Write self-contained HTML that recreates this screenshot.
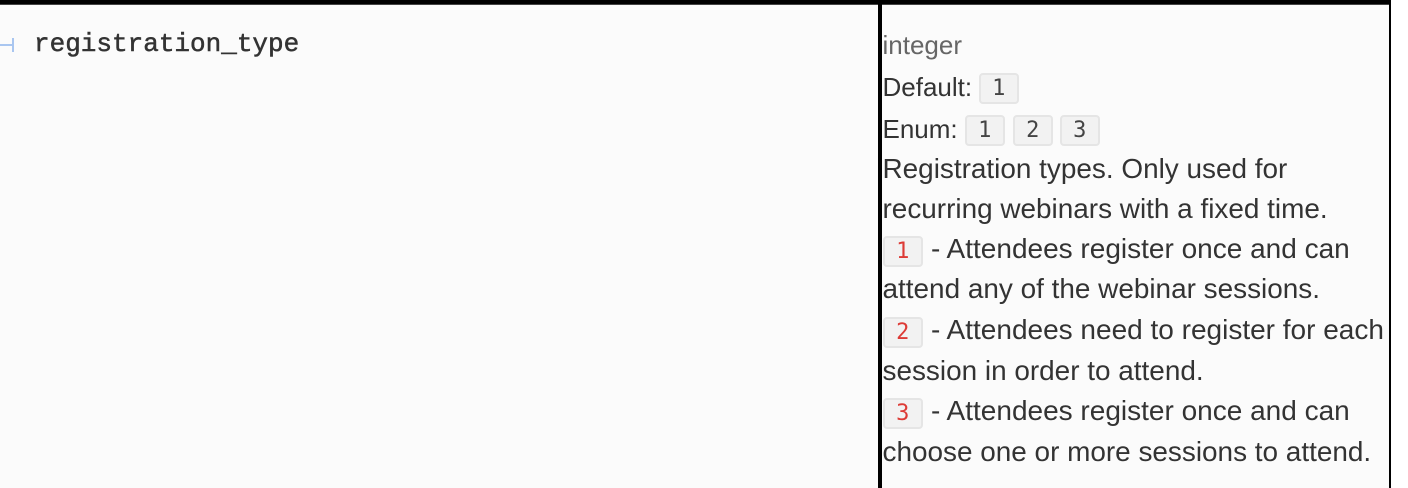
<!DOCTYPE html>
<html><head><meta charset="utf-8">
<style>
html,body{margin:0;padding:0}
body{width:1408px;height:488px;background:#fff;position:relative;overflow:hidden;font-family:"Liberation Sans",sans-serif;color:#333}
.bg{position:absolute;left:0;top:0;width:1391px;height:488px;background:#fbfbfb}
.l{position:absolute;background:#000}
.t{position:absolute;left:882.5px;font-size:27.92px;line-height:30px;white-space:nowrap;color:#333}
.s{font-size:26px}
.a{left:931px;font-size:28px}
.b{position:absolute;box-sizing:border-box;width:39.5px;height:31px;background:#f2f2f2;border:2px solid #e5e5e5;border-radius:4px;font-family:"DejaVu Sans Mono",monospace;font-size:22px;line-height:27px;text-align:center;color:#444}
.r{color:#dd3b36;left:883px}
</style></head><body>
<div class="bg"></div>
<div class="l" style="left:0;top:0;width:1391px;height:4px"></div>
<div class="l" style="left:0;top:4px;width:1391px;height:1px;background:#444"></div>
<div class="l" style="left:878px;top:0;width:4px;height:488px"></div>
<div class="l" style="left:1389px;top:0;width:2px;height:488px"></div>
<div style="position:absolute;left:0;top:44px;width:13px;height:2px;background:#a9c6f0"></div>
<div style="position:absolute;left:12px;top:38px;width:2px;height:14px;background:#a9c6f0"></div>
<div style="position:absolute;left:34px;top:29px;font-family:'Liberation Mono',monospace;font-size:26px;line-height:30px;color:#333;-webkit-text-stroke:.5px #333;white-space:nowrap">registration_type</div>
<div class="t s" style="top:30px;color:#666">integer</div>
<div class="t s" style="top:72px">Default:</div>
<div class="b" style="left:979px;top:73px">1</div>
<div class="t s" style="top:114px">Enum:</div>
<div class="b" style="left:965px;top:115px">1</div>
<div class="b" style="left:1013px;top:115px">2</div>
<div class="b" style="left:1060px;top:115px">3</div>
<div class="t" style="top:154px">Registration types. Only used for</div>
<div class="t" style="top:194px">recurring webinars with a fixed time.</div>
<div class="b r" style="top:236px">1</div>
<div class="t a" style="top:234px">- Attendees register once and can</div>
<div class="t" style="top:274px">attend any of the webinar sessions.</div>
<div class="b r" style="top:317px">2</div>
<div class="t a" style="top:315px">- Attendees need to register for each</div>
<div class="t" style="top:356px">session in order to attend.</div>
<div class="b r" style="top:398px">3</div>
<div class="t a" style="top:396px">- Attendees register once and can</div>
<div class="t" style="top:437px">choose one or more sessions to attend.</div>
</body></html>
